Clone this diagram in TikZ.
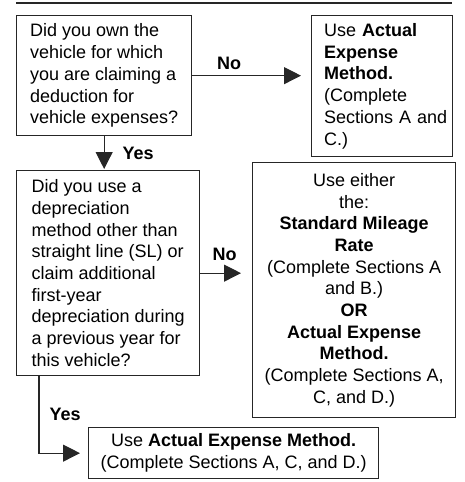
\documentclass[tikz,border=0pt]{standalone}
\usepackage{fontspec}
\setmainfont{Liberation Sans}
\usetikzlibrary{arrows.meta}

\tikzset{
  box/.style={draw=black!85, line width=1.3pt, anchor=north west,
    inner xsep=12pt, inner ysep=4pt, font=\fontsize{18}{21.7}\selectfont},
  arr/.style={draw=black!85, line width=1.1pt, -{Triangle[length=17pt,width=17pt]}},
  lbl/.style={font=\fontsize{18}{21.7}\selectfont\bfseries, inner sep=2pt}
}

\begin{document}
\begin{tikzpicture}[x=1pt,y=-1pt]
   \useasboundingbox (0,0) rectangle (464,482);
   \draw[line width=1.3pt,black!85] (16,3) -- (452,3);

   % questions
   \node[box, align=left, minimum width=175pt, minimum height=120pt] (own) at (16,15)
     {Did you own the\\vehicle for which\\you are claiming a\\deduction for\\vehicle expenses?};
   \node[box, align=left, minimum width=183pt, minimum height=205pt] (depr) at (16,170)
     {Did you use a\\depreciation\\method other than\\straight line (SL) or\\claim additional\\first-year\\depreciation during\\a previous year for\\this vehicle?};

   % answers
   \node[box, align=left, text width=116pt, inner xsep=12.5pt, minimum height=141pt] (actual) at (311,15)
     {Use \textbf{Actual}\\\textbf{Expense}\\\textbf{Method.}\\(Complete\\\mbox{Sections A and}\\C.)};
   \node[box, align=center, minimum width=200pt, minimum height=255pt] (either) at (252,162)
     {Use either\\the:\\\textbf{Standard Mileage}\\\textbf{Rate}\\(Complete Sections A\\and B.)\\\textbf{OR}\\\textbf{Actual Expense}\\\textbf{Method.}\\(Complete Sections A,\\C, and D.)};
   \node[box, align=center, minimum width=275pt, minimum height=51pt] (final) at (88,427)
     {Use \textbf{Actual Expense Method.}\\(Complete Sections A, C, and D.)};

   % connectors
   \draw[arr, shorten >=10pt] (own.east) -- node[lbl, above=3pt, pos=0.31] (no1) {No} (own.east -| actual.west);
   \draw[arr, shorten >=1pt] (own.south) -- node[lbl, right, xshift=16pt] (yes1) {Yes} (own.south |- depr.north);
   \draw[arr, shorten >=11pt] (depr.east) -- node[lbl, above=10pt, pos=0.47] (no2) {No} (depr.east -| either.west);
   \draw[arr, shorten >=8pt] ([xshift=23pt]depr.south west) |- node[lbl, right, pos=0.25, xshift=8pt] (yes2) {Yes} (final.west);
\end{tikzpicture}
\end{document}
